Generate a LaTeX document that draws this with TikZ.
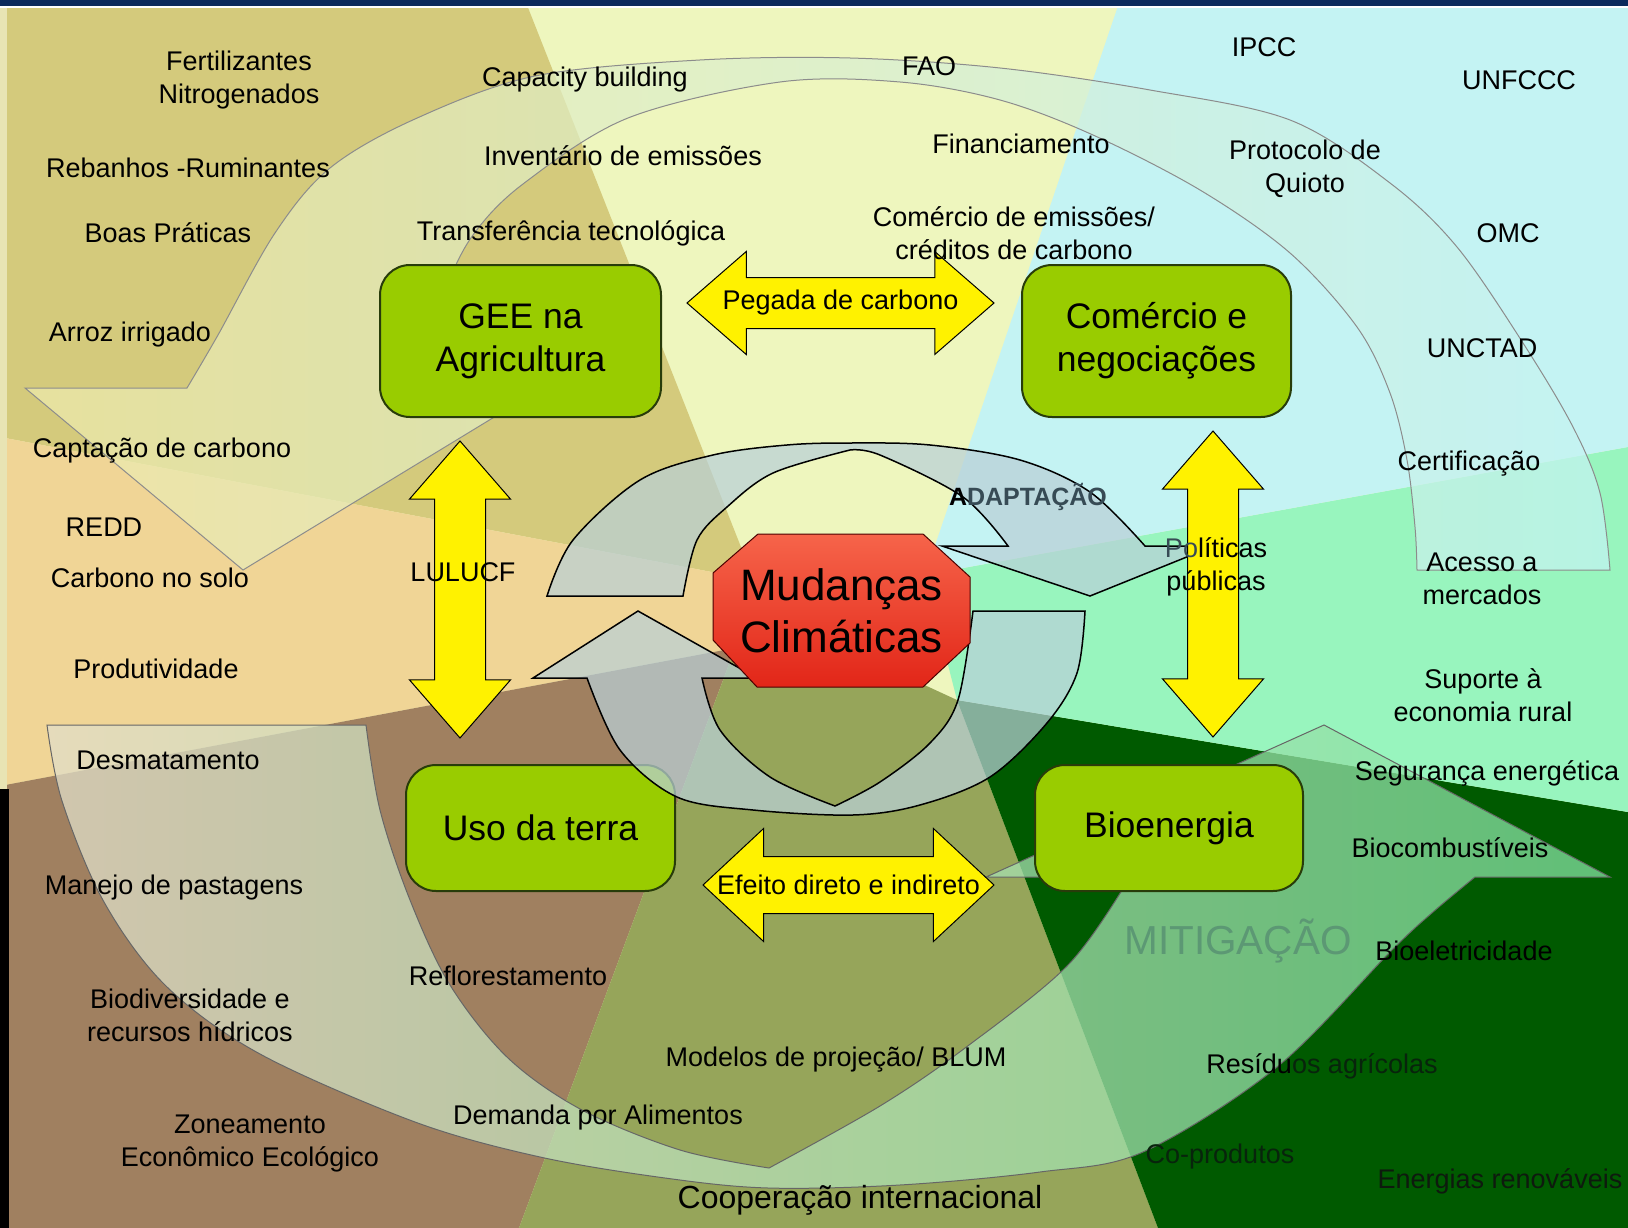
\documentclass[tikz,border=0pt]{standalone}
\usepackage{fontspec}
\setmainfont{Liberation Sans}
\usetikzlibrary{shapes.arrows}

\definecolor{olivebg}{RGB}{212,202,124}
\definecolor{yellowbg}{RGB}{238,246,190}
\definecolor{cyanbg}{RGB}{196,243,243}
\definecolor{mintbg}{RGB}{152,245,190}
\definecolor{darkgreenbg}{RGB}{0,90,0}
\definecolor{greenbg}{RGB}{150,165,90}
\definecolor{brownbg}{RGB}{160,128,96}
\definecolor{tanbg}{RGB}{240,213,150}
\definecolor{edgepale}{RGB}{232,228,180}
\definecolor{navy}{RGB}{12,42,92}
\definecolor{boxgreen}{RGB}{153,204,0}
\definecolor{boxline}{RGB}{40,60,10}
\definecolor{ringfill}{RGB}{185,208,215}
\definecolor{topA}{RGB}{238,234,172}
\definecolor{topC}{RGB}{196,243,243}
\definecolor{lowA}{RGB}{226,222,200}
\definecolor{lowC}{RGB}{130,225,160}
\definecolor{octtop}{RGB}{246,100,74}
\definecolor{octbot}{RGB}{226,38,24}
\definecolor{slate}{RGB}{55,75,85}
\definecolor{mitig}{RGB}{92,152,116}
\definecolor{deepgreen}{RGB}{8,36,12}
\definecolor{darkleaf}{RGB}{14,26,14}

\tikzset{
  lbl/.style={font=\fontsize{27}{33}\selectfont, align=center, inner sep=0pt},
  topic/.style={draw=boxline, line width=2pt, fill=boxgreen, rounded corners=30pt,
    font=\fontsize{35.5}{43}\selectfont, align=center, inner sep=0pt},
  link/.style={double arrow, draw=black, line width=1pt, fill=yellow, inner xsep=0pt,
    inner ysep=25pt, double arrow head extend=26pt, double arrow tip angle=82},
  ring/.style={draw=black, line width=1.5pt, fill=ringfill, fill opacity=0.72},
  hotspot/.style={draw=black!70!red, line width=1pt, top color=octtop, bottom color=octbot}
}

\begin{document}
\begin{tikzpicture}[x=1pt, y=-1pt]
  \useasboundingbox (0,0) rectangle (1628,1228);

  % Background wedges
  \fill[yellowbg] (0,0) rectangle (1628,1228);
  \fill[olivebg] (0,0) -- (525,0) -- (754,580) -- (0,437) -- cycle;
  \fill[tanbg] (0,437) -- (754,580) -- (735,648) -- (0,786) -- cycle;
  \fill[brownbg] (0,786) -- (735,648) -- (519,1228) -- (0,1228) -- cycle;
  \fill[greenbg] (519,1228) -- (735,648) -- (918,682) -- (957,700) -- (1158,1228) -- cycle;
  \fill[darkgreenbg] (1158,1228) -- (957,700) -- (1628,812) -- (1628,1228) -- cycle;
  \fill[mintbg] (1628,812) -- (957,700) -- (925,575) -- (1628,447) -- cycle;
  \fill[cyanbg] (1120,0) -- (1628,0) -- (1628,447) -- (925,575) -- cycle;

  % Big cycle (top)
  \path[draw=black!45, line width=1pt, left color=topA, middle color=yellowbg, right color=topC, fill opacity=0.72]
    (25,388) -- plot[smooth, tension=0.55] coordinates {(187,388) (218,335) (275,233) (330,168) (415,119)
      (535,76) (700,60) (850,58) (1000,68) (1150,90) (1290,120) (1390,183) (1457,247) (1523,343)
      (1573,427) (1600,493) (1610,570)}
    -- plot[smooth, tension=0.55] coordinates {(1417,570) (1415,527) (1407,460) (1390,393) (1357,327)
      (1290,253) (1200,190) (1093,135) (1000,100) (900,82) (780,82) (628,118) (523,184) (473,235)
      (445,290) (430,340) (425,388)}
    -- (542,388) -- (243,570) -- cycle;

  % Big cycle (bottom)
  \path[draw=black!60, line width=1pt, left color=lowA, right color=lowC, fill opacity=0.75]
    (47,725) -- plot[smooth, tension=0.55] coordinates {(366,725) (380,810) (410,900) (450,985) (508,1058)
      (582,1110) (680,1150) (769,1168)}
    -- plot[smooth, tension=0.55] coordinates {(769,1168) (880,1106) (965,1048) (1069,964) (1130,877)}
    -- (986,877) -- (1324,725) -- (1610,877)
    -- plot[smooth, tension=0.55] coordinates {(1475,877) (1433,912) (1391,951) (1277,1067) (1143,1152)
      (1040,1172) (900,1185) (768,1188) (665,1178) (540,1157) (415,1122) (260,1054) (166,986)
      (104,902) (62,801) (47,725)}
    -- cycle;

  % Topics
  \node[topic, minimum width=281pt, minimum height=152pt] (gee) at (520.5,341) {GEE na\\Agricultura};
  \node[topic, minimum width=269pt, minimum height=152pt] (comercio) at (1156.5,341) {Comércio e\\negociações};
  \node[topic, minimum width=269pt, minimum height=126pt] (uso) at (540.5,828) {Uso da terra};
  \node[topic, minimum width=268pt, minimum height=126pt] (bioen) at (1169,828) {Bioenergia};

  % Inner cycle
  \path[ring] plot[smooth, tension=0.55] coordinates {(547,596) (573,540) (640,480) (713,455) (787,445)
      (850,443) (930,445) (1020,460) (1090,492) (1145,546)}
    -- (1214,546) -- (1090,596) -- (942,546)
    -- plot[smooth, tension=0.55] coordinates {(1008,546) (963,497) (880,455) (850,450)}
    -- plot[smooth, tension=0.55] coordinates {(850,450) (773,473) (727,507) (697,540) (683,596)}
    -- cycle;
  \path[ring] plot[smooth, tension=0.55] coordinates {(1085,611) (1077,673) (1047,723) (990,777) (920,805)
      (853,815) (753,810) (677,797) (620,750) (587,678)}
    -- (533,678) -- (638,611) -- (757,678)
    -- plot[smooth, tension=0.55] coordinates {(702,678) (720,730) (770,777) (835,806)}
    -- plot[smooth, tension=0.55] coordinates {(835,806) (880,782) (930,743) (958,700) (973,611)}
    -- cycle;

  % Centre
  \path[hotspot] (758,534) -- (923,534) -- (970,577) -- (970,643) -- (923,687) -- (757,687)
    -- (713,640) -- (713,573) -- cycle;
  \node[font=\fontsize{44}{52}\selectfont, align=center, inner sep=0pt] (clima) at (841.5,610.5) {Mudanças\\Climáticas};

  % Arrows
  \node[link, minimum height=307pt] (peg) at (840.5,303) {};
  \node[link, minimum height=291pt, inner ysep=28pt, double arrow head extend=28pt,
    double arrow tip angle=86] (efe) at (848.5,885) {};
  \node[link, rotate=90, minimum height=297pt, double arrow head extend=25pt] (lul) at (460,589.5) {};
  \node[link, rotate=90, minimum height=306pt, double arrow head extend=25pt] (pol) at (1213,584) {};

  \node[lbl] at (peg) {Pegada de carbono};
  \node[lbl] at (efe) {Efeito direto e indireto};
  \node[lbl] (lulucf) at (463,572) {LULUCF};
  \node[lbl] (politicas) at (1216,567) {{\color{slate}Po}líticas\\públicas};
  \node[lbl, font=\bfseries\fontsize{25}{30}\selectfont] (adapt) at (1028,497) {A{\color{slate}DAPTAÇÃO}};
  \node[lbl, font=\fontsize{40.5}{48}\selectfont, text=mitig] (mitig) at (1238,941) {MITIGAÇÃO};

  % Labels left
  \node[lbl] (fert) at (239,80) {Fertilizantes\\Nitrogenados};
  \node[lbl] (reban) at (188,168) {Rebanhos -Ruminantes};
  \node[lbl] (boas) at (168,233) {Boas Práticas};
  \node[lbl] (arroz) at (130,335) {Arroz irrigado};
  \node[lbl] (capt) at (162,451) {Captação de carbono};
  \node[lbl] (redd) at (104,527) {REDD};
  \node[lbl] (carbsolo) at (150,578) {Carbono no solo};
  \node[lbl] (produt) at (156,669) {Produtividade};
  \node[lbl] (desmat) at (168,760) {Desmatamento};
  \node[lbl] (manejo) at (174,888) {Manejo de pastagens};
  \node[lbl] (biodiv) at (190,1015) {Biodiversidade e\\recursos hídricos};
  \node[lbl] (zonea) at (250,1144) {Zoneamento\\Econômico Ecológico};

  % Labels middle
  \node[lbl] (capac) at (585,80) {Capacity building};
  \node[lbl] (invent) at (623,156) {Inventário de emissões};
  \node[lbl] (transf) at (571,233) {Transferência tecnológica};
  \node[lbl] (fao) at (929,66) {FAO};
  \node[lbl] (financ) at (1021,144) {Financiamento};
  \node[lbl] (comemis) at (1014,233) {Comércio de emissões/\\créditos de carbono};
  \node[lbl] (reflor) at (508,976) {Reflorestamento};
  \node[lbl] (modelos) at (836,1060) {Modelos de projeção/ BLUM};
  \node[lbl] (demanda) at (598,1118) {Demanda por Alimentos};
  \node[lbl, font=\fontsize{32}{38}\selectfont] (coop) at (860,1200) {Cooperação internacional};

  % Labels right
  \node[lbl] (ipcc) at (1264,47) {IPCC};
  \node[lbl] (unfccc) at (1519,80) {UNFCCC};
  \node[lbl] (quioto) at (1305,169) {Protocolo de\\Quioto};
  \node[lbl] (omc) at (1508,233) {OMC};
  \node[lbl] (unctad) at (1482,348) {UNCTAD};
  \node[lbl] (certif) at (1469,464) {Certificação};
  \node[lbl] (acesso) at (1482,579) {Acesso a\\mercados};
  \node[lbl] (suporte) at (1483,695) {Suporte à\\economia rural};
  \node[lbl] (seguranca) at (1487,773) {Segurança energética};
  \node[lbl] (biocomb) at (1450,848) {Biocombustíveis};
  \node[lbl] (bioelet) at (1464,951) {Bioeletricidade};
  \node[lbl] (residuos) at (1322,1066) {Resídu{\color{deepgreen}os agrícolas}};
  \node[lbl, text=deepgreen] (coprod) at (1220,1157) {Co-produtos};
  \node[lbl, text=darkleaf] (energias) at (1500,1181) {Energias renováveis};

  % Frame
  \fill[navy] (0,0) rectangle (1628,6);
  \fill[white] (0,6) rectangle (1628,8);
  \fill[edgepale] (0,8) rectangle (7,789);
  \fill[black] (0,789) rectangle (9,1228);
\end{tikzpicture}
\end{document}
